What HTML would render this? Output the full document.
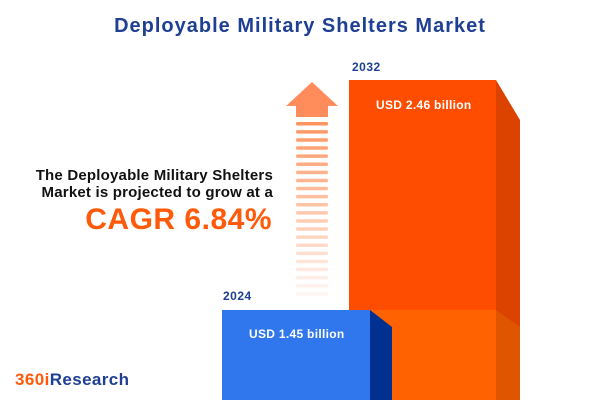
<!DOCTYPE html>
<html><head><meta charset="utf-8"><style>
body{margin:0;width:600px;height:400px;overflow:hidden;background:#fff;font-family:"Liberation Sans",sans-serif;}
.a{position:absolute;white-space:nowrap;font-weight:bold;}
</style></head><body>
<svg width="600" height="400" style="position:absolute;left:0;top:0">
<polygon points="312,82 338,106 328,106 328,117 296,117 296,106 286,106" fill="#FF8C5A"/>
<g id="st"></g>
<rect x="349" y="80" width="147" height="320" fill="#FF4D00"/>
<polygon points="496,80 520,120 520,400 496,400" fill="#DC4200"/>
<rect x="349" y="310" width="147" height="90" fill="#FF6200"/>
<polygon points="496,310 520,327 520,400 496,400" fill="#E05500"/>
<rect x="222" y="310" width="148" height="90" fill="#3077EE"/>
<polygon points="370,310 392,327 392,400 370,400" fill="#003090"/>
</svg>
<div class="a" style="left:0;width:600px;top:15px;text-align:center;font-size:20px;letter-spacing:1px;color:#1E3F94">Deployable Military Shelters Market</div>
<div class="a" style="left:352px;top:60px;font-size:12px;letter-spacing:0.5px;color:#1E3F94">2032</div>
<div class="a" style="left:223px;top:289px;font-size:12px;letter-spacing:0.5px;color:#1E3F94">2024</div>
<div class="a" style="left:376px;top:98px;font-size:12px;letter-spacing:0.3px;color:#fff">USD 2.46 billion</div>
<div class="a" style="left:249px;top:327px;font-size:12px;letter-spacing:0.3px;color:#fff">USD 1.45 billion</div>
<div class="a" style="right:327px;top:167px;font-size:15px;color:#111;text-align:right;line-height:17px;letter-spacing:0.2px">The Deployable Military Shelters<br>Market is projected to grow at a</div>
<div class="a" style="right:328px;top:203px;font-size:30px;color:#FF5A0A;letter-spacing:0.5px">CAGR 6.84%</div>
<div class="a" style="left:15px;top:370px;font-size:17px;letter-spacing:0.4px;color:#1E3F94"><span style="color:#FF5A0A">360i</span>Research</div>
<script>
var g=document.getElementById('st'),s='';
for(var i=0;i<22;i++){var y=122+i*8.1,o=(1-i/22)*0.9+0.03;s+='<rect x="296" y="'+y+'" width="32" height="3.5" rx="1.5" fill="#FF8C55" fill-opacity="'+o.toFixed(2)+'"/>';}
g.innerHTML=s;
</script>
</body></html>
